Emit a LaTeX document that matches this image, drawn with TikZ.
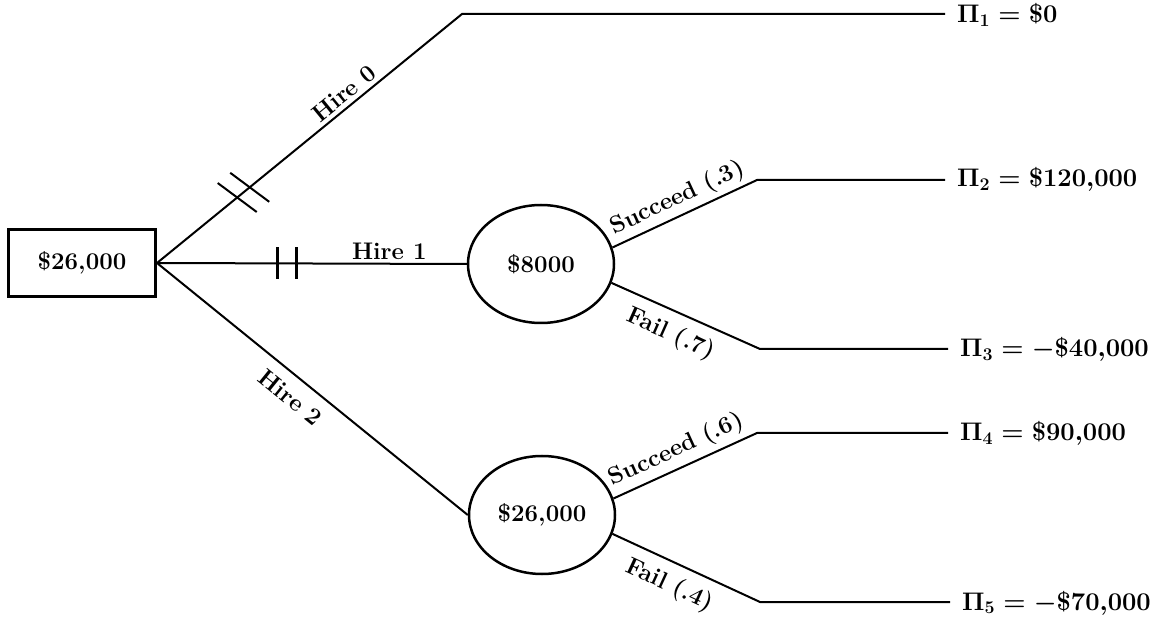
\documentclass[tikz,border=0pt]{standalone}
\usepackage{fix-cm}
\usetikzlibrary{shapes.geometric}
\begin{document}
\begin{tikzpicture}[x=1pt,y=-1pt,
  conn/.style={line width=2pt},
  lbl/.style={font=\fontsize{24}{28}\selectfont\bfseries\boldmath, inner sep=1pt},
  pay/.style={lbl, font=\fontsize{25.5}{30}\selectfont\bfseries\boldmath, anchor=base west, inner xsep=12pt},
  chance/.style={ellipse, draw, line width=2.5pt, minimum width=146pt, minimum height=118pt, lbl},
  tick/.style={line width=2pt},
  vtick/.style={line width=3pt}]
\useasboundingbox (0,0) rectangle (1157,617);
% decision node
\node[draw, line width=3pt, minimum width=147pt, minimum height=67pt, lbl] (root) at (82,263) {\$26,000};
% chance nodes
\node[chance] (c1) at (541,264) {\$8000};
\node[chance] (c2) at (542,515) {\$26,000};
% bend points
\coordinate (b0) at (462,14);
\coordinate (s1) at (757,180);
\coordinate (f1) at (760,349);
\coordinate (s2) at (757,433);
\coordinate (f2) at (760,602);
% payoffs
\node[pay] (p1) at (945,23) {$\Pi_1 = \$0$};
\node[pay] (p2) at (945,187) {$\Pi_2 = \$120{,}000$};
\node[pay] (p3) at (948,357) {$\Pi_3 = -\$40{,}000$};
\node[pay] (p4) at (948,441) {$\Pi_4 = \$90{,}000$};
\node[pay] (p5) at (950,610) {$\Pi_5 = -\$70{,}000$};
% branches
\draw[conn] (root.east) -- node[lbl, sloped, above=3pt, pos=0.64] {Hire 0} (b0) -- (b0 -| p1.west);
\draw[conn] (root.east) -- node[lbl, above=2pt, pos=0.75] {Hire 1} (c1.west);
\draw[conn] (root.east) -- node[lbl, sloped, below=10pt, pos=0.47] {Hire 2} (c2.west);
\draw[conn] (c1.13) -- node[lbl, sloped, above=3pt, pos=0.5] {Succeed (.3)} (s1) -- (s1 -| p2.west);
\draw[conn] (c1.-15) -- node[lbl, sloped, below=9pt, pos=0.46] {Fail (.7)} (f1) -- (f1 -| p3.west);
\draw[conn] (c2.13) -- node[lbl, sloped, above=4pt, pos=0.49] {Succeed (.6)} (s2) -- (s2 -| p4.west);
\draw[conn] (c2.-15) -- node[lbl, sloped, below=9pt, pos=0.45] {Fail (.4)} (f2) -- (f2 -| p5.west);
% ticks
\path (root.east) -- (b0) coordinate[pos=0.263] (k1) coordinate[pos=0.304] (k2);
\draw[tick] (k1) +(-19.5,-14.5) -- +(19.5,14.5);
\draw[tick] (k2) +(-19.5,-14.5) -- +(19.5,14.5);
\path (root.east) -- (c1.west) coordinate[pos=0.39] (k3) coordinate[pos=0.45] (k4);
\draw[vtick] (k3) +(0,-16) -- +(0,16);
\draw[vtick] (k4) +(0,-16) -- +(0,16);
\end{tikzpicture}
\end{document}
